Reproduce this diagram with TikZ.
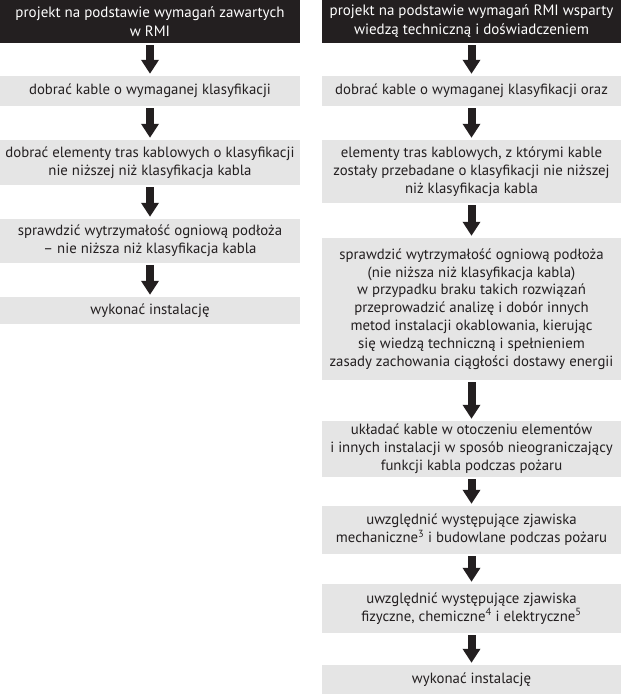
\documentclass[tikz,border=0pt]{standalone}
\usepackage{fontspec}
\setmainfont{PT Sans}
\usetikzlibrary{arrows.meta}
\definecolor{boxgray}{RGB}{229,229,229}
\definecolor{ink}{RGB}{35,31,32}
\begin{document}
\begin{tikzpicture}[x=1pt,y=-1pt,
  base/.style={rectangle, inner sep=0pt, align=center, font=\fontsize{14.8}{17.8}\selectfont, text=ink},
  headbox/.style={base, fill=ink, text=white, font=\fontsize{15}{19}\selectfont},
  gbox/.style={base, fill=boxgray},
  lcol/.style={minimum width=300pt},
  rcol/.style={minimum width=299pt},
  flow/.style={draw=ink, line width=8pt, -{Triangle[width=17pt,length=14pt]}, shorten <=2pt, shorten >=2pt}]
\useasboundingbox (0,0) rectangle (621,700);
% left column
\node[headbox, lcol, minimum height=43pt] (L1) at (150,21.5) {projekt na podstawie wymagań zawartych\\w RMI};
\node[gbox, lcol, minimum height=30pt] (L2) at (150,91) {dobrać kable o wymaganej klasyfikacji};
\node[gbox, lcol, minimum height=45pt] (L3) at (150,162.5) {dobrać elementy tras kablowych o klasyfikacji\\nie niższej niż klasyfikacja kabla};
\node[gbox, lcol, minimum height=44pt] (L4) at (150,241) {sprawdzić wytrzymałość ogniową podłoża\\– nie niższa niż klasyfikacja kabla};
\node[gbox, lcol, minimum height=27pt] (L5) at (150,310.5) {wykonać instalację};
\draw[flow] (L1.south) -- (L2.north);
\draw[flow] (L2.south) -- (L3.north);
\draw[flow] (L3.south) -- (L4.north);
\draw[flow] (L4.south) -- (L5.north);
% right column
\node[headbox, rcol, minimum height=43pt] (R1) at (471.5,21.5) {projekt na podstawie wymagań RMI wsparty\\wiedzą techniczną i doświadczeniem};
\node[gbox, rcol, minimum height=30pt] (R2) at (471.5,91) {dobrać kable o wymaganej klasyfikacji oraz};
\node[gbox, rcol, minimum height=63pt] (R3) at (471.5,171.5) {elementy tras kablowych, z którymi kable\\zostały przebadane o klasyfikacji nie niższej\\niż klasyfikacja kabla};
\node[gbox, rcol, minimum height=142pt] (R4) at (471.5,309) {sprawdzić wytrzymałość ogniową podłoża\\(nie niższa niż klasyfikacja kabla)\\w przypadku braku takich rozwiązań\\przeprowadzić analizę i dobór innych\\metod instalacji okablowania, kierując\\się wiedzą techniczną i spełnieniem\\zasady zachowania ciągłości dostawy energii};
\node[gbox, rcol, minimum height=56pt] (R5) at (471.5,449) {układać kable w otoczeniu elementów\\i innych instalacji w sposób nieograniczający\\funkcji kabla podczas pożaru};
\node[gbox, rcol, minimum height=48pt] (R6) at (471.5,530) {uwzględnić występujące zjawiska\\mechaniczne\textsuperscript{3} i budowlane podczas pożaru};
\node[gbox, rcol, minimum height=49pt] (R7) at (471.5,608.5) {uwzględnić występujące zjawiska\\fizyczne, chemiczne\textsuperscript{4} i elektryczne\textsuperscript{5}};
\node[gbox, rcol, minimum height=29pt] (R8) at (471.5,679.5) {wykonać instalację};
\draw[flow] (R1.south) -- (R2.north);
\draw[flow] (R2.south) -- (R3.north);
\draw[flow] (R3.south) -- (R4.north);
\draw[flow] (R4.south) -- (R5.north);
\draw[flow] (R5.south) -- (R6.north);
\draw[flow] (R6.south) -- (R7.north);
\draw[flow] (R7.south) -- (R8.north);
\end{tikzpicture}
\end{document}
